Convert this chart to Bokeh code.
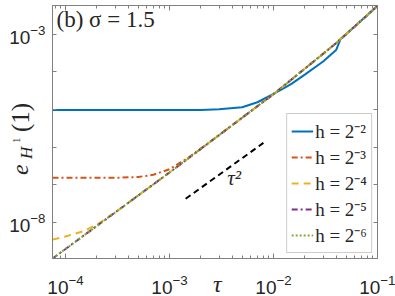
from bokeh.plotting import figure
from bokeh.layouts import column
from bokeh.models import LogAxis, FixedTicker, Label, Range1d, CustomJSTickFormatter, Div
from bokeh.embed import file_html
from bokeh.resources import INLINE

# ---------------- data ----------------
tau = [7.5e-5, 1e-4, 1.5e-4, 2e-4, 3e-4, 5e-4, 7e-4, 1e-3, 1.5e-3, 2e-3, 3e-3,
       5e-3, 7e-3, 1e-2, 1.3e-2, 1.5e-2, 2e-2, 3e-2, 4e-2, 4.4e-2, 6e-2, 8e-2, 1e-1]

err_h2 = [9.8e-6, 9.8e-6, 9.8e-6, 9.8e-6, 9.8e-6, 9.8e-6, 9.8e-6, 9.8e-6, 9.8e-6, 9.85e-6, 1.02e-5,
          1.16e-5, 1.57e-5, 2.6e-5, 3.9e-5, 4.9e-5, 8.5e-5, 1.9e-4, 3.8e-4, 7.35e-4, 1.59e-3, 3.26e-3, 5.69e-3]
err_h3 = [1.55e-7, 1.55e-7, 1.55e-7, 1.55e-7, 1.55e-7, 1.63e-7, 1.87e-7, 2.62e-7, 5.2e-7, 9.2e-7, 2.11e-6,
          6.11e-6, 1.23e-5, 2.57e-5, 4.64e-5, 6.4e-5, 1.22e-4, 3.04e-4, 5.81e-4, 7.35e-4, 1.59e-3, 3.26e-3, 5.69e-3]
err_h4 = [3.55e-9, 4.3e-9, 6.0e-9, 8.8e-9, 1.87e-8, 5.26e-8, 1.04e-7, 2.15e-7, 4.99e-7, 9.08e-7, 2.11e-6,
          6.11e-6, 1.23e-5, 2.57e-5, 4.64e-5, 6.4e-5, 1.22e-4, 3.04e-4, 5.81e-4, 7.35e-4, 1.59e-3, 3.26e-3, 5.69e-3]
err_h5 = [1.12e-9, 2.0e-9, 4.56e-9, 8.18e-9, 1.86e-8, 5.26e-8, 1.04e-7, 2.15e-7, 4.99e-7, 9.08e-7, 2.11e-6,
          6.11e-6, 1.23e-5, 2.57e-5, 4.64e-5, 6.4e-5, 1.22e-4, 3.04e-4, 5.81e-4, 7.35e-4, 1.59e-3, 3.26e-3, 5.69e-3]
err_h6 = [1.12e-9, 2.0e-9, 4.56e-9, 8.18e-9, 1.86e-8, 5.26e-8, 1.04e-7, 2.15e-7, 4.99e-7, 9.08e-7, 2.11e-6,
          6.11e-6, 1.23e-5, 2.57e-5, 4.64e-5, 6.4e-5, 1.22e-4, 3.04e-4, 5.81e-4, 7.35e-4, 1.59e-3, 3.26e-3, 5.69e-3]

series_labels = ["h = 2⁻²", "h = 2⁻³", "h = 2⁻⁴", "h = 2⁻⁵", "h = 2⁻⁶"]

ref_tau = [1.43e-3, 8.0e-3]
ref_err = [4.3e-8, 1.31e-6]

x_major = [1e-4, 1e-3, 1e-2, 1e-1]
y_major = [1e-8, 1e-3]
y_minor = [1e-7, 1e-6, 1e-5, 1e-4]
x_minor = [k * d for d in [1e-5, 1e-4, 1e-3, 1e-2] for k in range(2, 10)]

# ---------------- styling ----------------
colors = ["#0072BD", "#D95319", "#EDB120", "#7E2F8E", "#77AC30"]
dashes = ["solid", "6 3 2 3", "7 5", "6 3 2 3", "2 2"]
AX = "#808080"
TXT = "#262626"
SERIF = "Liberation Serif"
W, H = 395, 296

p = figure(width=W, height=H, x_axis_type="log", y_axis_type="log",
           x_range=Range1d(7.5e-5, 0.1), y_range=Range1d(1.12e-9, 5.8e-3),
           output_backend="svg", toolbar_location=None,
           min_border_left=52, min_border_right=18, min_border_top=5, min_border_bottom=37)
p.xgrid.visible = False
p.ygrid.visible = False
p.outline_line_color = AX
p.background_fill_color = "white"
p.border_fill_color = "white"

xt = FixedTicker(ticks=x_major, minor_ticks=x_minor)
yt = FixedTicker(ticks=y_major, minor_ticks=y_minor)


def style(ax, labels=True, is_x=True):
    ax.axis_line_color = AX
    ax.major_tick_line_color = AX
    ax.minor_tick_line_color = AX
    ax.major_tick_out = 0
    ax.minor_tick_out = 0
    if is_x:
        ax.major_tick_in = 5
        ax.minor_tick_in = 3
    else:
        ax.major_tick_in = 4
        ax.minor_tick_in = 4
    ax.major_label_text_font = "Liberation Sans"
    ax.major_label_text_font_size = "19px"
    ax.major_label_text_color = TXT
    if not labels:
        ax.formatter = CustomJSTickFormatter(code="return ''")
        ax.major_label_text_font_size = "0px"
        ax.major_label_standoff = 0


p.xaxis[0].ticker = xt
p.yaxis[0].ticker = yt
style(p.xaxis[0], True, True)
style(p.yaxis[0], True, False)
p.xaxis[0].major_label_standoff = 16
p.yaxis[0].major_label_standoff = 7

top = LogAxis(ticker=xt)
right = LogAxis(ticker=yt)
style(top, False, True)
style(right, False, False)
p.add_layout(top, "above")
p.add_layout(right, "right")

# ---------------- lines ----------------
all_err = [err_h2, err_h3, err_h4, err_h5, err_h6]
for e, c, d, lab in zip(all_err, colors, dashes, series_labels):
    p.line(tau, e, line_color=c, line_width=2, line_dash=d, legend_label=lab)

p.line(ref_tau, ref_err, line_color="black", line_width=2, line_dash="6 4")

# ---------------- texts inside the frame ----------------
p.add_layout(Label(x=3.6e-3, y=7.5e-8, text="τ²", text_font=SERIF, text_font_size="21px",
                   text_font_style="italic", text_color=TXT))
p.add_layout(Label(x=7.5e-5, y=5.8e-3, x_offset=4, y_offset=-1, text="(b) σ = 1.5",
                   text_font=SERIF, text_font_size="23px", text_color=TXT, text_baseline="top"))

# ---------------- legend ----------------
lg = p.legend[0]
lg.location = "bottom_right"
lg.margin = 5
lg.padding = 4
lg.spacing = 0
lg.label_height = 20
lg.glyph_height = 20
lg.glyph_width = 22
lg.label_standoff = 2
lg.label_text_font = SERIF
lg.label_text_font_size = "19px"
lg.label_text_color = TXT
lg.border_line_color = "#999999"
lg.background_fill_alpha = 1.0

# ---------------- axis labels outside the frame (HTML text overlay) ----------------
def piece(text, size, left, top, rotate=True, italic=False):
    rot = "transform:rotate(-90deg);transform-origin:0 0;" if rotate else ""
    st = "italic" if italic else "normal"
    return (f'<div style="position:absolute;left:{left}px;top:{top}px;{rot}'
            f'font-family:\'{SERIF}\',serif;font-size:{size}px;line-height:1;'
            f'font-style:{st};white-space:nowrap;color:{TXT}">{text}</div>')

B = 0.8375  # baseline position within a line-height:1 box (Liberation Serif)
html = (f'<div style="position:relative;width:{W}px;height:{H}px;pointer-events:none">'
        + piece("τ", 24, 213, round(292 - B * 24, 1), rotate=False, italic=True)
        + piece("e", 24, round(28 - B * 24, 1), 175, italic=True)
        + piece("H", 17, round(32 - B * 17, 1), 159, italic=True)
        + piece("1", 11, round(20 - B * 11, 1), 143)
        + piece("(1)", 25, round(29 - B * 25, 1), 132)
        + '</div>')
labels_div = Div(text=html, width=W, height=H, margin=(-H, 0, 0, 0))

layout = column(p, labels_div)
open("out.html", "w").write(file_html(layout, INLINE))
